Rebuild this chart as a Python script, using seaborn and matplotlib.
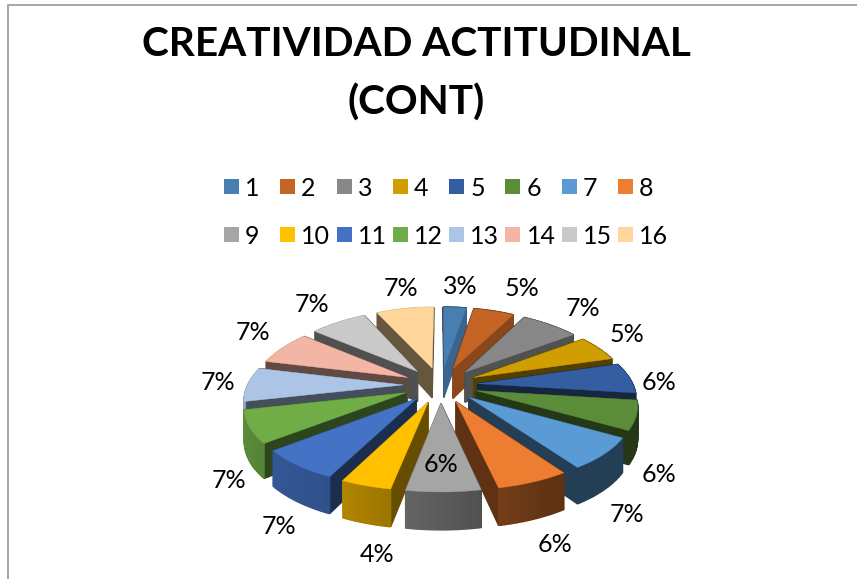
import numpy as np
import matplotlib
matplotlib.use("Agg")
import matplotlib.pyplot as plt
from matplotlib.patches import Polygon, Rectangle
import seaborn as sns

# ---- data ----
categories = [str(i) for i in range(1, 17)]
values = [3.0, 5.2, 7.0, 5.2, 6.2, 6.2, 7.0, 6.2, 6.3, 4.3, 7.0, 7.0, 7.0, 6.8, 6.9, 7.4]
hex_colors = ["#487EB0", "#C46526", "#878787", "#D09E00", "#355EA2", "#5B8C39",
              "#5B9BD5", "#ED7D31", "#A5A5A5", "#FFC000", "#4472C4", "#70AD47",
              "#ACC5E6", "#F4B6A4", "#C9C9C9", "#FFD79C"]
title_lines = ["CREATIVIDAD ACTITUDINAL", "(CONT)"]
label_px = [(460, 286), (522, 288), (583, 308), (627, 334), (659, 382), (659, 474),
            (627, 514), (555, 544), (441, 464), (377, 554), (279, 526), (229, 480),
            (218, 382), (253, 332), (312, 304), (401, 289)]

# ---- style ----
sns.set_theme(style="white")
plt.rcParams["font.family"] = ["Lato", "DejaVu Sans"]
palette = sns.color_palette(hex_colors)

CX, CY = 440.5, 385.0
RX, AY, BY = 155.5, 74.6, 9.4
PERSP = 0.18
DEPTH = 31.0
EXPLODE = 0.24


def project(X, Y, d=0.0):
    scale = 1 + PERSP * np.asarray(Y)
    return np.column_stack([CX + RX * np.asarray(X) * scale,
                            CY + AY * np.asarray(Y) + BY * np.asarray(Y) ** 2 + DEPTH * scale * d])


def outer_shade(phi):
    return np.interp(phi, [90, 150, 180, 210, 240, 270, 360], [.4, .4, .55, .72, .78, .85, .85])


def end_shade(theta):
    return np.interp(theta, [11, 30, 56, 74, 180, 196, 230, 256, 282, 360],
                     [.8, .7, .6, .4, .4, .8, .7, .55, .42, .4])


def dark(c, f):
    return tuple(np.array(c) * f)


fig = plt.figure(figsize=(8.57, 5.79), dpi=100, facecolor="white")
ax = fig.add_axes([0, 0, 1, 1])
ax.set_xlim(0, 857)
ax.set_ylim(579, 0)
ax.axis("off")

# chart frame (top and left edges visible)
ax.plot([8.5, 8.5, 857], [579, 5, 5], color="#A6A6A6", lw=1.4, solid_capstyle="butt")

# title
for line, y in zip(title_lines, [44, 103]):
    ax.text(416, y, line, ha="center", va="center", fontsize=29.2, fontweight="bold", color="black")

# legend
for i, (name, col) in enumerate(zip(categories, palette)):
    row, c = divmod(i, 8)
    x0 = 224 + 56.3 * c
    y0 = 186.5 + 48 * row
    ax.add_patch(Rectangle((x0, y0 - 7.5), 15, 15, facecolor=col, edgecolor="none"))
    ax.text(x0 + 21, y0 + 1.5, name, ha="left", va="center", fontsize=18, color="black")

# exploded 3-D pie
vals = np.array(values, dtype=float)
edges = np.concatenate([[0], np.cumsum(vals)]) / vals.sum() * 360
order = np.argsort([-np.cos(np.radians((edges[i] + edges[i + 1]) / 2)) for i in range(len(vals))])
z = 3
for i in order:
    a0, a1 = edges[i], edges[i + 1]
    mid = np.radians((a0 + a1) / 2)
    ox, oy = EXPLODE * np.sin(mid), -EXPLODE * np.cos(mid)
    t = np.radians(np.linspace(a0, a1, 25))
    ax_x, ax_y = ox + np.sin(t), oy - np.cos(t)
    faces = []
    # radial faces
    for tt, sh in ((t[0], .4), (t[-1], float(end_shade(a1)))):
        xs = np.array([ox, ox + np.sin(tt)])
        ys = np.array([oy, oy - np.cos(tt)])
        top = project(xs, ys)
        bot = project(xs, ys, 1)[::-1]
        faces.append((ys.mean(), np.vstack([top, bot]), sh))
    # outer face, split so it can be shaded along the arc
    for k in range(len(t) - 1):
        xs, ys = ax_x[k:k + 2], ax_y[k:k + 2]
        top = project(xs, ys)
        bot = project(xs, ys, 1)[::-1]
        phi = np.degrees((t[k] + t[k + 1]) / 2)
        faces.append((ys.mean(), np.vstack([top, bot]), float(outer_shade(phi))))
    for _, pts, sh in sorted(faces, key=lambda f: f[0]):
        fc = dark(palette[i], sh)
        ax.add_patch(Polygon(pts, closed=True, facecolor=fc, edgecolor=fc, lw=1.0, zorder=z))
        z += 1
    top_pts = project(np.r_[ox, ax_x], np.r_[oy, ax_y])
    ax.add_patch(Polygon(top_pts, closed=True, facecolor=palette[i], edgecolor=palette[i], lw=0.3, zorder=z))
    z += 1

# value labels
for v, (lx, ly) in zip(values, label_px):
    ax.text(lx, ly, f"{v:.0f}%", ha="center", va="center", fontsize=18, color="black", zorder=z)

fig.savefig("out.png", dpi=100, facecolor="white")
